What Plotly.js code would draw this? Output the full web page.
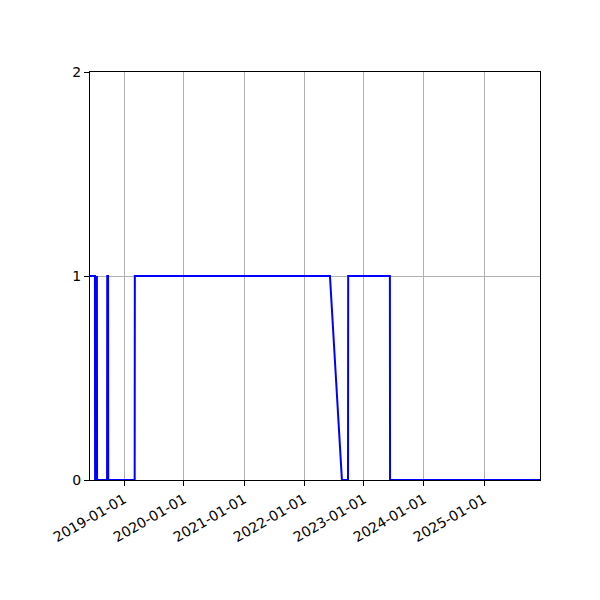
<!DOCTYPE html>
<html>
<head>
<meta charset="utf-8">
<script src="https://cdn.plot.ly/plotly-3.0.1.min.js"></script>
<style>body{margin:0;background:#fff}</style>
</head>
<body>
<div id="plot"></div>
<script>
// step-like status series
const dates = [
  '2018-06-08', '2018-07-08', '2018-07-09', '2018-07-19', '2018-07-20', '2018-07-21',
  '2018-09-20', '2018-09-21', '2018-09-26', '2018-09-27',
  '2019-03-07', '2019-03-08',
  '2022-06-08', '2022-08-20', '2022-09-26', '2022-09-27',
  '2023-06-08', '2023-06-09', '2025-12-08'
];
const status = [
  1, 1, 0, 0, 1, 0,
  0, 1, 1, 0,
  0, 1,
  1, 0, 0, 1,
  1, 0, 0
];
const xTicks = ['2019-01-01', '2020-01-01', '2021-01-01', '2022-01-01',
                '2023-01-01', '2024-01-01', '2025-01-01'];
const yTicks = [0, 1, 2];

const trace = {
    x: dates,
    y: status,
    type: 'scatter',
    mode: 'lines',
    line: {color: '#0000ff', width: 2},
    hoverinfo: 'x+y',
};

const axisCommon = {
    showline: true,
    mirror: true,
    linecolor: '#000',
    linewidth: 1,
    ticks: 'outside',
    ticklen: 5,
    tickwidth: 1,
    tickcolor: '#000',
    showgrid: true,
    gridcolor: '#b0b0b0',
    gridwidth: 1,
    zeroline: false,
};

const layout = {
    width: 600,
    height: 600,
    showlegend: false,
    paper_bgcolor: '#fff',
    plot_bgcolor: '#fff',
    font: {family: 'DejaVu Sans', size: 14, color: '#000'},
    margin: {l: 90, r: 60, t: 72, b: 120},
    xaxis: Object.assign({}, axisCommon, {
        type: 'date',
        range: ['2018-06-08', '2025-12-08'],
        tickvals: xTicks,
        ticktext: xTicks,
        tickangle: -30,
    }),
    yaxis: Object.assign({}, axisCommon, {
        range: [0, 2],
        tickvals: yTicks,
        ticktext: yTicks.map(String),
    }),
};

Plotly.newPlot('plot', [trace], layout, {displayModeBar: false, staticPlot: true});
</script>
</body>
</html>
